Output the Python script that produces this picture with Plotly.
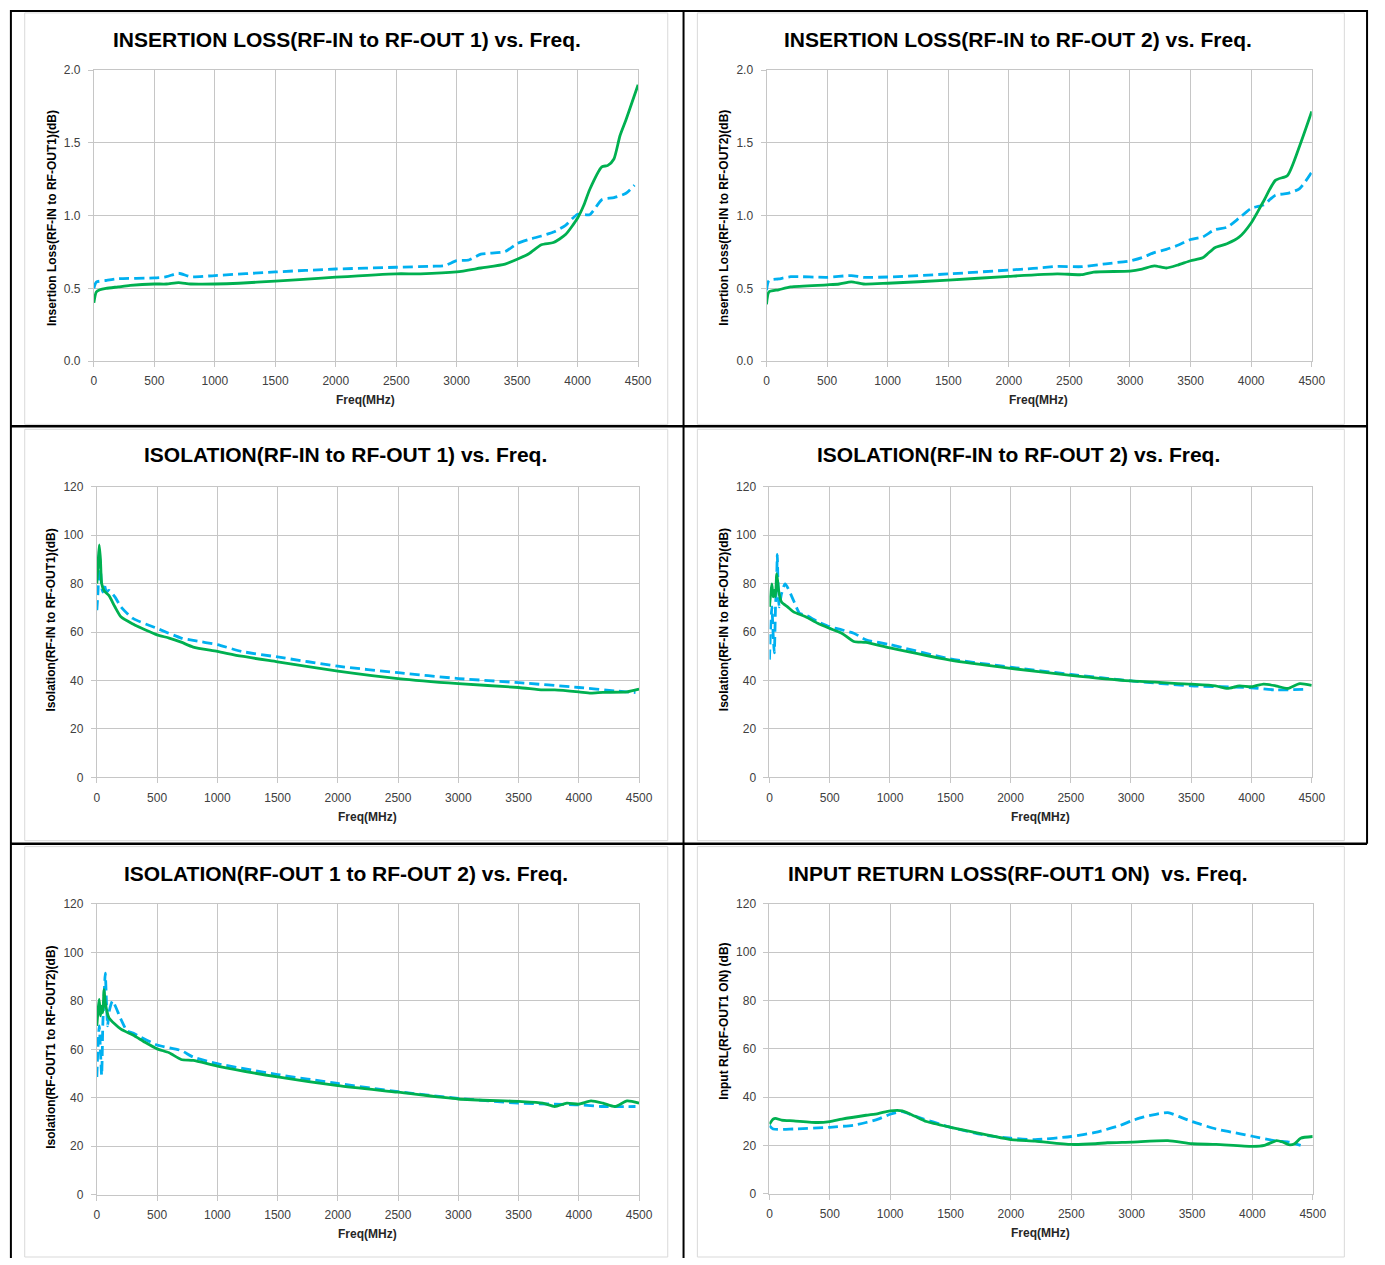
import plotly.graph_objects as go

W, H = 1385, 1265

# ---------------- data ----------------
# Chart 1: Insertion loss RF-IN -> RF-OUT1
il1_solid_f = [0, 20, 50, 100, 200, 300, 500, 600, 700, 800, 1000, 1200, 1500, 1700, 2000, 2500, 2700, 3000, 3200, 3400, 3500, 3600, 3700, 3800, 3900, 4000, 4050, 4100, 4200, 4250, 4300, 4350, 4400, 4450, 4500]
il1_solid = [0.40, 0.475, 0.49, 0.50, 0.51, 0.52, 0.53, 0.53, 0.54, 0.53, 0.53, 0.535, 0.55, 0.56, 0.577, 0.60, 0.60, 0.613, 0.64, 0.667, 0.70, 0.74, 0.80, 0.815, 0.87, 0.984, 1.07, 1.18, 1.335, 1.346, 1.39, 1.55, 1.66, 1.78, 1.90]
il1_dash_f = [0, 20, 100, 200, 500, 600, 700, 800, 1000, 1500, 2000, 2500, 2800, 2900, 3000, 3100, 3200, 3400, 3500, 3600, 3700, 3800, 3900, 4000, 4100, 4200, 4300, 4400, 4470]
il1_dash = [0.50, 0.543, 0.554, 0.566, 0.572, 0.58, 0.604, 0.58, 0.588, 0.613, 0.633, 0.645, 0.652, 0.656, 0.69, 0.695, 0.735, 0.753, 0.808, 0.837, 0.86, 0.887, 0.934, 1.01, 1.007, 1.11, 1.124, 1.154, 1.21]

# Chart 2: Insertion loss RF-IN -> RF-OUT2
il2_solid_f = [0, 20, 100, 200, 500, 600, 700, 800, 1000, 1500, 2000, 2400, 2600, 2700, 3000, 3100, 3200, 3300, 3400, 3500, 3600, 3700, 3800, 3900, 4000, 4100, 4200, 4300, 4400, 4500]
il2_solid = [0.39, 0.475, 0.49, 0.51, 0.524, 0.53, 0.545, 0.53, 0.535, 0.556, 0.583, 0.60, 0.594, 0.612, 0.619, 0.633, 0.655, 0.64, 0.662, 0.69, 0.71, 0.78, 0.807, 0.852, 0.95, 1.096, 1.243, 1.277, 1.48, 1.717]
il2_dash_f = [0, 20, 100, 200, 500, 700, 800, 1000, 1500, 2000, 2200, 2400, 2600, 2800, 3000, 3100, 3200, 3300, 3400, 3500, 3600, 3700, 3800, 3900, 4000, 4100, 4200, 4300, 4400, 4500]
il2_dash = [0.486, 0.554, 0.565, 0.58, 0.576, 0.588, 0.576, 0.578, 0.599, 0.626, 0.637, 0.651, 0.649, 0.669, 0.689, 0.712, 0.746, 0.768, 0.798, 0.836, 0.854, 0.904, 0.92, 0.983, 1.05, 1.073, 1.141, 1.153, 1.186, 1.30]

# Chart 3: Isolation RF-IN -> RF-OUT1
iso1_solid_f = [0, 10, 20, 30, 40, 60, 100, 150, 200, 300, 400, 500, 600, 700, 800, 1000, 1200, 1500, 2000, 2500, 3000, 3500, 3700, 3800, 4000, 4100, 4200, 4400, 4500]
iso1_solid = [80, 88, 96, 90, 80, 77, 75.1, 70.4, 66.3, 63.3, 60.9, 58.8, 57.5, 55.8, 53.8, 52.0, 50.0, 47.7, 43.9, 40.8, 38.7, 37.1, 36.1, 36.1, 35.3, 34.8, 35.1, 35.3, 36.4]
iso1_dash_f = [0, 10, 20, 30, 40, 50, 60, 80, 100, 150, 200, 300, 500, 700, 800, 1000, 1200, 1500, 2000, 2500, 3000, 3500, 4000, 4300, 4470]
iso1_dash = [69, 77, 92, 86.7, 78.5, 76.5, 80, 76.5, 77.2, 74.5, 70.4, 65.6, 61.5, 57.5, 56.5, 54.8, 52.0, 49.7, 45.9, 43.2, 40.8, 39.1, 37.1, 35.7, 35.0]

# Chart 4: Isolation RF-IN -> RF-OUT2
iso2_solid_f = [0, 10, 20, 30, 40, 50, 60, 70, 80, 100, 150, 200, 300, 400, 500, 600, 700, 800, 1000, 1500, 2000, 2500, 3000, 3500, 3700, 3800, 3900, 4000, 4100, 4200, 4300, 4400, 4500]
iso2_solid = [70.4, 75.8, 79.9, 74.5, 77.2, 74.5, 84, 80, 75.8, 72.4, 70.4, 68.3, 66.3, 63.6, 61.5, 59.5, 56.1, 55.7, 53.4, 48.4, 45.0, 42.1, 39.8, 38.5, 37.8, 36.7, 37.8, 37.4, 38.5, 37.8, 36.7, 38.7, 38.0]
iso2_dash_f = [0, 10, 20, 30, 40, 50, 60, 65, 70, 80, 100, 130, 200, 250, 300, 400, 500, 600, 700, 800, 1000, 1500, 2000, 2500, 3000, 3500, 4000, 4200, 4470]
iso2_dash = [48.6, 62.2, 70.4, 59.5, 51.4, 70.4, 82.6, 92, 81.3, 70.4, 75.8, 79.9, 73, 67.7, 67, 64.3, 62.2, 60.9, 59.5, 56.8, 54.8, 48.9, 45.5, 42.5, 39.8, 37.8, 37.0, 36.1, 36.4]

# Chart 5: Isolation RF-OUT1 -> RF-OUT2
iso12_solid_f = [0, 20, 30, 40, 50, 60, 70, 100, 200, 300, 400, 500, 600, 700, 800, 1000, 1500, 2000, 2500, 3000, 3500, 3700, 3800, 3900, 4000, 4100, 4200, 4300, 4400, 4500]
iso12_solid = [69.7, 80.6, 73.8, 77.8, 75.1, 84.6, 79.2, 73.1, 68.3, 65.9, 62.9, 60.2, 58.6, 55.8, 55.4, 53.1, 48.6, 45.0, 42.3, 39.5, 38.5, 37.8, 36.4, 37.8, 37.4, 38.7, 37.8, 36.4, 38.7, 37.8]
iso12_dash_f = [0, 10, 20, 30, 40, 50, 60, 70, 80, 90, 100, 130, 200, 250, 300, 500, 700, 800, 1000, 1500, 2000, 2500, 3000, 3500, 4000, 4200, 4470]
iso12_dash = [48.6, 61.5, 69.7, 59.5, 49.3, 71, 81.9, 91.4, 79.2, 69.7, 75.1, 79.9, 72.4, 67.7, 66.7, 61.8, 59.5, 56.8, 54.1, 49.6, 45.9, 42.5, 39.8, 37.8, 37.1, 36.4, 36.4]

# Chart 6: Input return loss (RF-OUT1 ON)
rl_solid_f = [0, 30, 50, 100, 200, 400, 500, 600, 800, 900, 1000, 1100, 1200, 1300, 1500, 1700, 2000, 2200, 2500, 2700, 2800, 3000, 3300, 3500, 3700, 4000, 4100, 4200, 4250, 4300, 4350, 4400, 4500]
rl_solid = [28.8, 30.9, 31.2, 30.5, 30.2, 29.5, 29.9, 30.9, 32.5, 33.2, 34.3, 34.3, 32.2, 29.9, 27.5, 25.4, 22.4, 21.8, 20.4, 20.7, 21.1, 21.4, 22.0, 20.7, 20.4, 19.6, 20.0, 22.0, 21.4, 20.3, 20.7, 23.0, 23.7]
rl_dash_f = [0, 30, 200, 500, 700, 800, 900, 1000, 1100, 1200, 1500, 1800, 2000, 2200, 2500, 2700, 2900, 3000, 3100, 3200, 3300, 3400, 3500, 3700, 3900, 4000, 4200, 4300, 4400]
rl_dash = [28.2, 26.8, 26.8, 27.5, 28.4, 29.5, 30.9, 32.9, 34.0, 32.2, 27.5, 24.1, 23.0, 22.4, 23.7, 25.4, 28.2, 30.2, 31.8, 32.9, 33.6, 31.8, 29.9, 26.8, 24.8, 23.8, 21.8, 21.4, 20.0]

titles = [
    "INSERTION LOSS(RF-IN to RF-OUT 1) vs. Freq.",
    "INSERTION LOSS(RF-IN to RF-OUT 2) vs. Freq.",
    "ISOLATION(RF-IN to RF-OUT 1) vs. Freq.",
    "ISOLATION(RF-IN to RF-OUT 2) vs. Freq.",
    "ISOLATION(RF-OUT 1 to RF-OUT 2) vs. Freq.",
    "INPUT RETURN LOSS(RF-OUT1 ON)  vs. Freq.",
]
y_titles = [
    "Insertion Loss(RF-IN to RF-OUT1)(dB)",
    "Insertion Loss(RF-IN to RF-OUT2)(dB)",
    "Isolation(RF-IN to RF-OUT1)(dB)",
    "Isolation(RF-IN to RF-OUT2)(dB)",
    "Isolation(RF-OUT1 to RF-OUT2)(dB)",
    "Input RL(RF-OUT1 ON) (dB)",
]
x_title = "Freq(MHz)"

series = [
    (il1_solid_f, il1_solid, il1_dash_f, il1_dash),
    (il2_solid_f, il2_solid, il2_dash_f, il2_dash),
    (iso1_solid_f, iso1_solid, iso1_dash_f, iso1_dash),
    (iso2_solid_f, iso2_solid, iso2_dash_f, iso2_dash),
    (iso12_solid_f, iso12_solid, iso12_dash_f, iso12_dash),
    (rl_solid_f, rl_solid, rl_dash_f, rl_dash),
]
y_ranges = [(0, 2.0, 0.5, ".1f")] * 2 + [(0, 120, 20, "d")] * 4

# ---------------- layout geometry (reference pixels) ----------------
plot_boxes = [
    (92, 643, 64, 358),
    (773, 1325, 64, 358),
    (95, 644, 485, 779),
    (776, 1325, 485, 779),
    (95, 644, 907, 1201),
    (776, 1326, 907, 1200),
]
title_pos = [(348, 33), (1028, 33), (347, 453), (1028, 453), (347, 876), (1028, 876)]
ytitle_pos = [(49, 213), (730, 213), (49, 620), (730, 620), (49, 1052), (730, 1026)]
xtitle_pos = [(367, 397), (1048, 397), (369, 819), (1050, 819), (369, 1241), (1050, 1240)]

def px(x):
    return x / W

def py(y):
    return 1 - y / H

GREEN = "#00B050"
BLUE = "#00B0F0"
GRID = "#C6C6C6"
FAM = "Liberation Sans, Arial, sans-serif"
TICKFONT = dict(family=FAM, size=12, color="#404040")

fig = go.Figure()
layout = dict(
    width=W, height=H,
    margin=dict(l=0, r=0, t=0, b=0),
    paper_bgcolor="white", plot_bgcolor="white",
    showlegend=False,
)

annotations = []
for i in range(6):
    n = "" if i == 0 else str(i + 1)
    sf, sv, df, dv = series[i]
    fig.add_trace(go.Scatter(x=df, y=dv, mode="lines", xaxis="x" + n, yaxis="y" + n,
                             line=dict(color=BLUE, width=2.8, dash="10px,5px", shape="spline", smoothing=0.6),
                             hoverinfo="skip"))
    fig.add_trace(go.Scatter(x=sf, y=sv, mode="lines", xaxis="x" + n, yaxis="y" + n,
                             line=dict(color=GREEN, width=2.8, shape="spline", smoothing=0.6),
                             hoverinfo="skip"))
    x0, x1, yt, yb = plot_boxes[i]
    ymin, ymax, ydt, yfmt = y_ranges[i]
    layout["xaxis" + n] = dict(
        domain=[px(x0), px(x1)], anchor="y" + n, range=[0, 4500], dtick=500, tick0=0,
        showgrid=True, gridcolor=GRID, gridwidth=1, zeroline=False,
        showline=True, linecolor=GRID, linewidth=1, mirror=True,
        ticks="outside", ticklen=5, tickcolor=GRID, tickfont=TICKFONT,
        ticklabelstandoff=4, fixedrange=True,
    )
    layout["yaxis" + n] = dict(
        domain=[py(yb), py(yt)], anchor="x" + n, range=[ymin, ymax], dtick=ydt, tick0=0,
        tickformat=yfmt,
        showgrid=True, gridcolor=GRID, gridwidth=1, zeroline=False,
        showline=True, linecolor=GRID, linewidth=1, mirror=True,
        ticks="outside", ticklen=5, tickcolor=GRID, tickfont=TICKFONT,
        ticklabelstandoff=5, fixedrange=True,
    )
    tx, ty = title_pos[i]
    annotations.append(dict(text=titles[i], x=px(tx), y=py(ty), xref="paper", yref="paper",
                            showarrow=False, xanchor="center", yanchor="middle",
                            font=dict(family=FAM, size=21, color="#000000", weight="bold")))
    yx, yy = ytitle_pos[i]
    annotations.append(dict(text=y_titles[i], x=px(yx), y=py(yy), xref="paper", yref="paper",
                            showarrow=False, xanchor="center", yanchor="middle", textangle=-90,
                            font=dict(family=FAM, size=12, color="#000000", weight="bold")))
    xx, xy = xtitle_pos[i]
    annotations.append(dict(text=x_title, x=px(xx), y=py(xy), xref="paper", yref="paper",
                            showarrow=False, xanchor="center", yanchor="middle",
                            font=dict(family=FAM, size=12, color="#262626", weight="bold")))

layout["annotations"] = annotations

shapes = []
frames = [(22, 6, 673, 422), (703, 6, 1358, 422), (22, 427, 673, 843), (703, 427, 1358, 843), (22, 849, 673, 1264), (703, 849, 1358, 1264)]
for (a, b, c, d) in frames:
    shapes.append(dict(type="rect", xref="paper", yref="paper", x0=px(a), x1=px(c), y0=py(d), y1=py(b),
                       line=dict(color="#D9D9D9", width=1), layer="below"))

def hline(y, xa, xb, w=2):
    shapes.append(dict(type="line", xref="paper", yref="paper", x0=px(xa), x1=px(xb), y0=py(y), y1=py(y),
                       line=dict(color="#000000", width=w)))

def vline(x, ya, yb, w=2):
    shapes.append(dict(type="line", xref="paper", yref="paper", x0=px(x), x1=px(x), y0=py(ya), y1=py(yb),
                       line=dict(color="#000000", width=w)))

hline(4, 8, 1381)
hline(424, 8, 1381, 2.5)
hline(846, 8, 1381, 2.5)
vline(8, 3, 1265)
vline(689, 3, 1265)
vline(1381, 3, 846)
layout["shapes"] = shapes

fig.update_layout(**layout)
fig.write_html(
    "out.html",
    config={"displayModeBar": False, "staticPlot": True},
    post_script="document.body.style.margin='0';document.body.style.overflow='hidden';",
)
